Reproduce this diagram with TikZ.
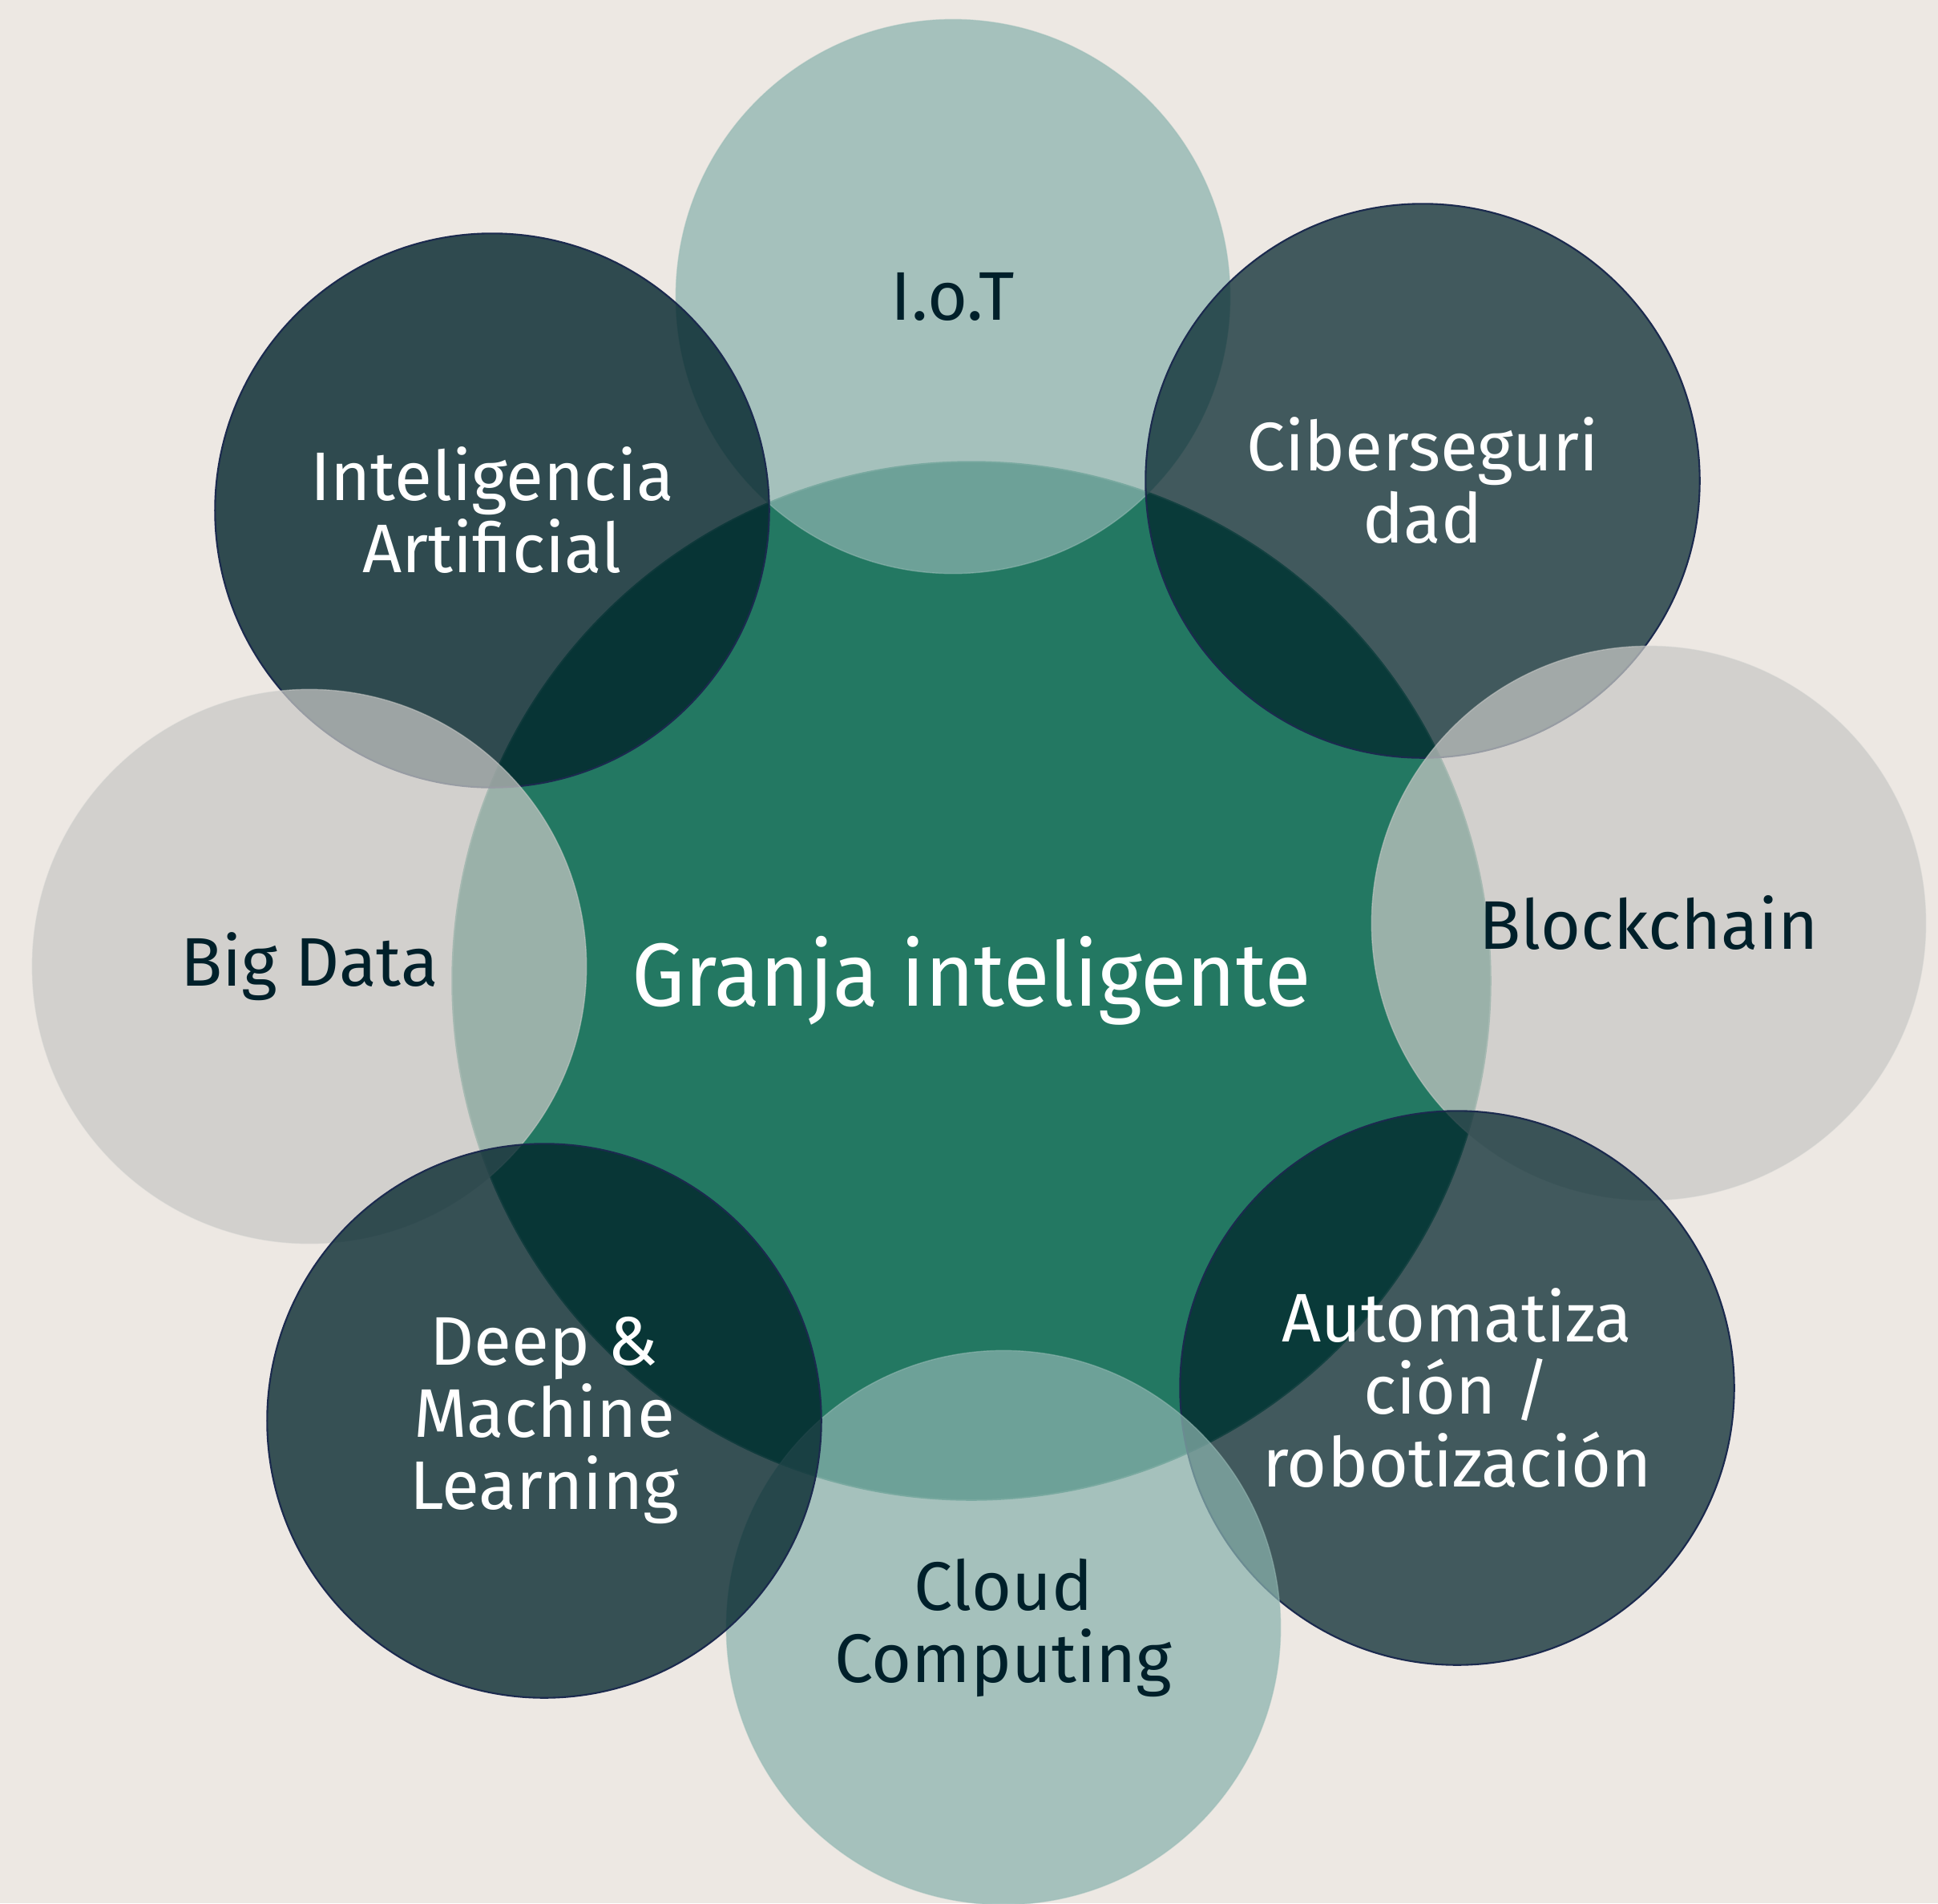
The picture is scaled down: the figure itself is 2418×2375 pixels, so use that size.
\documentclass[tikz,border=0pt]{standalone}
\usepackage{fontspec}
\setmainfont{Fira Sans}
\newfontfamily\centfont{Fira Sans}[FakeStretch=0.94]
\definecolor{bgc}{HTML}{EDE8E3}
\definecolor{centc}{HTML}{237862}
\definecolor{tealc}{HTML}{8AB2AD}
\definecolor{grayc}{HTML}{C8C8C5}
\definecolor{darkc}{HTML}{00232A}
\definecolor{rimc}{HTML}{1B2A4E}
\definecolor{inkc}{HTML}{00202A}
\tikzset{
  outer/.style={circle, minimum size=6.91cm, inner sep=0pt, align=center, text opacity=1,
    font=\fontsize{24.4}{25.6}\selectfont},
  lightc/.style={outer, fill=#1, fill opacity=0.72, text=inkc, draw=#1!85!white, draw opacity=0.5, line width=0.4pt},
  darkcirc/.style={outer, fill=darkc, fill opacity=#1, text=white, draw=rimc, draw opacity=1, line width=0.6pt},
}
\begin{document}
\begin{tikzpicture}[x=0.01cm, y=-0.01cm]
\fill[bgc] (0,0) rectangle (2418,2375);
\useasboundingbox (0,0) rectangle (2418,2375);
\node[circle, minimum size=12.95cm, inner sep=0pt, fill=centc, draw=centc!80!white, line width=0.5pt, text=white,
  font=\centfont\fontsize{31.8}{34}\selectfont] (center) at (1212,1224) {Granja inteligente};
\node[lightc=tealc] (iot) at (1189,370) {I.o.T};
\node[darkcirc=0.8] (ia) at (614,637) {Inteligencia\\Artificial};
\node[darkcirc=0.72] (ciber) at (1775,600) {Ciberseguri\\dad};
\node[lightc=grayc] (bigdata) at (386,1206) {Big Data};
\node[lightc=grayc] (block) at (2057,1152) {Blockchain};
\node[darkcirc=0.72] (auto) at (1818,1732) {Automatiza\\ción /\\robotización};
\node[lightc=tealc] (cloud) at (1252,2031) {Cloud\\Computing};
\node[darkcirc=0.77] (deep) at (679,1773) {Deep \&\\Machine\\Learning};
\end{tikzpicture}
\end{document}
